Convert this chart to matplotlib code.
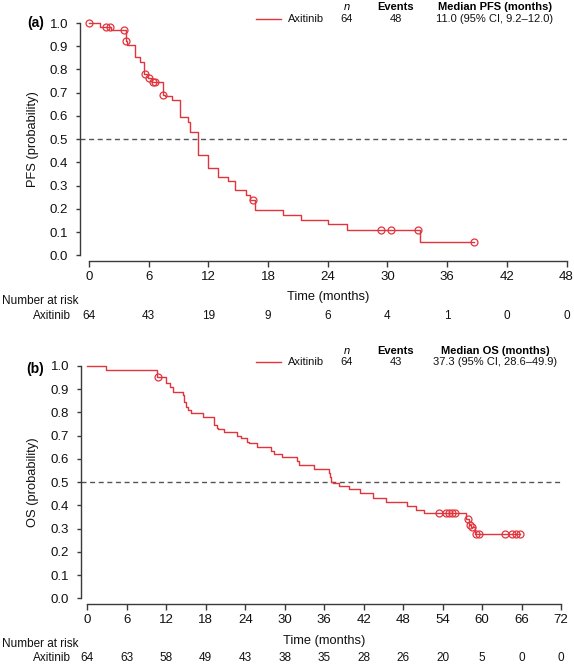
import matplotlib
matplotlib.use("Agg")
import matplotlib.pyplot as plt
import matplotlib.transforms as mtransforms
import numpy as np

plt.rcParams["font.family"] = ["Liberation Sans", "DejaVu Sans"]

W, H = 574, 665
RED = "#e2343d"
AXC = "#3a3a3a"

# (a) progression-free survival, Kaplan-Meier steps
PFS_T = [0, 1.1, 2.2, 3.7, 3.85, 4.6, 5.1, 5.55, 5.9, 6.3, 7.4, 7.6, 8.3, 9.2, 10.0, 10.2,
         11.0, 12.0, 13.0, 14.0, 14.7, 15.8, 16.2, 16.7, 19.5, 21.3, 24.0, 25.9, 33.3, 38.7]
PFS_S = [1.0, 0.984, 0.969, 0.922, 0.905, 0.853, 0.834, 0.781, 0.765, 0.747, 0.69, 0.685, 0.669,
         0.594, 0.575, 0.532, 0.432, 0.374, 0.338, 0.318, 0.281, 0.26, 0.24, 0.195, 0.173, 0.152,
         0.133, 0.109, 0.056, 0.056]
PFS_CENS_T = [0, 1.7, 2.1, 3.5, 3.75, 5.6, 6.05, 6.45, 6.65, 7.45, 16.5, 29.4, 30.4, 33.1, 38.7]
PFS_CENS_S = [1.0, 0.984, 0.984, 0.969, 0.922, 0.781, 0.765, 0.747, 0.747, 0.69, 0.24,
              0.109, 0.109, 0.109, 0.056]
PFS_RISK = [64, 43, 19, 9, 6, 4, 1, 0, 0]

# (b) overall survival
OS_T = [0, 2.85, 10.65, 11.9, 12.6, 13.0, 14.5, 14.75, 15.0, 15.27, 15.7, 17.65, 19.27, 19.7,
        19.9, 20.7, 22.8, 23.3, 24.25, 24.6, 25.85, 27.9, 28.4, 29.6, 31.8, 32.2, 34.5, 36.75,
        36.9, 37.1, 37.3, 38.2, 39.85, 41.4, 43.4, 45.4, 48.6, 50.0, 51.2, 57.5, 58.0, 58.3,
        59.0, 65.8]
OS_S = [1.0, 0.983, 0.954, 0.928, 0.908, 0.889, 0.875, 0.846, 0.825, 0.81, 0.796, 0.779, 0.746,
        0.732, 0.727, 0.717, 0.699, 0.689, 0.674, 0.667, 0.65, 0.636, 0.621, 0.607, 0.59, 0.575,
        0.555, 0.541, 0.524, 0.502, 0.495, 0.483, 0.469, 0.452, 0.43, 0.413, 0.399, 0.38, 0.366,
        0.34, 0.316, 0.309, 0.276, 0.276]
OS_CENS_T = [10.7, 53.4, 54.5, 55.0, 55.4, 55.9, 57.8, 58.1, 58.5, 59.1, 59.5, 63.5, 64.6, 65.1, 65.8]
OS_CENS_S = [0.954, 0.366, 0.366, 0.366, 0.366, 0.366, 0.34, 0.316, 0.309, 0.276, 0.276,
             0.276, 0.276, 0.276, 0.276]
OS_RISK = [64, 63, 58, 49, 43, 38, 35, 28, 26, 20, 5, 0, 0]

YTICKS = [i / 10 for i in range(11)]


def fx(px):
    return px / W


def fy(py):
    return 1 - py / H


def panel(fig, box, xmax, t, s, ct, cs, risk, ylabel, tag, stat_name, stat_val, events, ypx):
    left, right, top, bottom, xmin = box
    ax = fig.add_axes([fx(left), fy(bottom), fx(right - left), (bottom - top) / H])
    ax.set_xlim(xmin, xmax)
    ax.set_ylim(-0.0245, 1.0)
    for side in ("top", "right"):
        ax.spines[side].set_visible(False)
    for side in ("left", "bottom"):
        ax.spines[side].set_color(AXC)
        ax.spines[side].set_linewidth(1.0)
    ax.spines["left"].set_bounds(0, 1)
    ax.spines["bottom"].set_bounds(0, xmax)
    xt = list(range(0, xmax + 1, 6))
    ax.set_xticks(xt)
    ax.set_xticklabels([str(v) for v in xt], fontsize=9.5, color="#111")
    ax.set_yticks(YTICKS)
    ax.set_yticklabels([f"{v:.1f}" for v in YTICKS], fontsize=9.5, color="#111")
    ax.tick_params(axis="x", length=4, width=1.0, color=AXC, pad=3.5)
    ax.tick_params(axis="y", length=3, width=1.0, color=AXC, pad=5.5)

    ax.axhline(0.5, color="#555", lw=1.0, dashes=(3.6, 2.6))
    ax.step(t, s, where="post", color=RED, lw=1.0, clip_on=False)
    ax.plot(ct, cs, "o", ms=5, mfc="none", mec=RED, mew=0.9, clip_on=False)

    ymid = mtransforms.blended_transform_factory(fig.transFigure, ax.transData)
    ax.text(fx(33), 0.5, ylabel, rotation=90, ha="center", va="center",
            fontsize=9.3, color="#111", transform=ymid)
    xf = mtransforms.blended_transform_factory(ax.transData, fig.transFigure)
    ax.text(xmax / 2, fy(ypx["time"]), "Time (months)", ha="center", va="center",
            fontsize=9.3, color="#111", transform=xf)
    for tv, n in zip(xt, risk):
        ax.text(tv, fy(ypx["risk"]), str(n), ha="center", va="center",
                fontsize=8.5, color="#111", transform=xf)
    fig.text(fx(2), fy(ypx["nar"]), "Number at risk", ha="left", va="center",
             fontsize=8.5, color="#111")
    fig.text(fx(71), fy(ypx["risk"]), "Axitinib", ha="right", va="center",
             fontsize=8.5, color="#111")

    # panel tag and header table
    fig.text(fx(44), fy(ypx["tag"]), tag, ha="right", va="center",
             fontsize=10, fontweight="bold")
    hy, vy = fy(ypx["head"]), fy(ypx["val"])
    fig.add_artist(plt.Line2D([fx(256), fx(281)], [vy, vy], color=RED, lw=1.0))
    fig.text(fx(288), vy, "Axitinib", ha="left", va="center", fontsize=8, color="#111")
    fig.text(fx(347), hy, "n", ha="center", va="center", fontsize=8, style="italic")
    fig.text(fx(347), vy, "64", ha="center", va="center", fontsize=8, color="#111")
    fig.text(fx(396), hy, "Events", ha="center", va="center", fontsize=8, fontweight="bold")
    fig.text(fx(396), vy, str(events), ha="center", va="center", fontsize=8, color="#111")
    fig.text(fx(495), hy, stat_name, ha="center", va="center", fontsize=8, fontweight="bold")
    fig.text(fx(495), vy, stat_val, ha="center", va="center", fontsize=8, color="#111")
    return ax


fig = plt.figure(figsize=(W / 100, H / 100), dpi=100)

panel(fig, (80, 566.5, 23, 261, -0.9), 48, PFS_T, PFS_S, PFS_CENS_T, PFS_CENS_S, PFS_RISK,
      "PFS (probability)", "(a)", "Median PFS (months)", "11.0 (95% CI, 9.2\u201312.0)", 48,
      {"time": 297, "nar": 301, "risk": 316, "tag": 23, "head": 7, "val": 19})

panel(fig, (81, 561, 366, 604, -0.96), 72, OS_T, OS_S, OS_CENS_T, OS_CENS_S, OS_RISK,
      "OS (probability)", "(b)", "Median OS (months)", "37.3 (95% CI, 28.6\u201349.9)", 43,
      {"time": 641, "nar": 644, "risk": 658, "tag": 369, "head": 351, "val": 362})

fig.savefig("out.png", dpi=100)
